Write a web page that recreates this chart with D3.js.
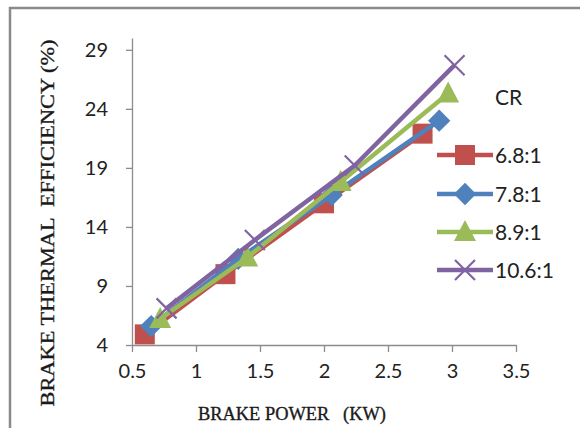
<!DOCTYPE html>
<html><head><meta charset="utf-8">
<script src="https://cdn.jsdelivr.net/npm/d3@7"></script>
<style>html,body{margin:0;padding:0;background:#fff}svg{display:block}</style>
</head><body>
<script>
const seriesNames = ["6.8:1", "7.8:1", "8.9:1", "10.6:1"];
const colors = ["#C0504D", "#4F81BD", "#9BBB59", "#8064A2"];
const markers = ["square", "diamond", "triangle", "cross"];
const bp_68 = [0.60, 1.23, 2.00, 2.77];
const bte_68 = [4.9, 10.0, 16.0, 21.9];
const bp_78 = [0.65, 1.33, 2.06, 2.90];
const bte_78 = [5.6, 11.3, 16.7, 23.0];
const bp_89 = [0.72, 1.40, 2.13, 2.97];
const bte_89 = [6.2, 11.4, 17.8, 25.3];
const bp_106 = [0.77, 1.46, 2.24, 3.02];
const bte_106 = [7.1, 12.9, 19.2, 27.7];
const xTicks = [0.5, 1, 1.5, 2, 2.5, 3, 3.5];
const yTicks = [4, 9, 14, 19, 24, 29];

const series = [
  {name: seriesNames[0], xs: bp_68, ys: bte_68},
  {name: seriesNames[1], xs: bp_78, ys: bte_78},
  {name: seriesNames[2], xs: bp_89, ys: bte_89},
  {name: seriesNames[3], xs: bp_106, ys: bte_106}
].map((s, i) => ({...s, color: colors[i], marker: markers[i],
  pts: s.xs.map((x, j) => [x, s.ys[j]])}));

const W = 580, H = 428;
const svg = d3.select("body").append("svg").attr("width", W).attr("height", H);

// frame
svg.append("rect").attr("x", 10).attr("y", 8).attr("width", 600).attr("height", 450)
  .attr("fill", "none").attr("stroke", "#8a8a8a").attr("stroke-width", 2.5);

const x = d3.scaleLinear().domain([0.5, 3.5]).range([132, 516]);
const y = d3.scaleLinear().domain([4, 30]).range([345, 38]);

const axisColor = "#8c8c8c";
const tickFont = "Lato, 'Open Sans', sans-serif";

// y axis
const gy = svg.append("g").attr("transform", `translate(${x(0.5)},0)`)
  .call(d3.axisLeft(y).tickValues(yTicks).tickSize(6).tickSizeOuter(0).tickPadding(18));
// x axis
const gx = svg.append("g").attr("transform", `translate(0,${y(4)})`)
  .call(d3.axisBottom(x).tickValues(xTicks).tickSize(7).tickSizeOuter(0).tickPadding(12)
    .tickFormat(d3.format("")));
[gx, gy].forEach(g => {
  g.select(".domain").attr("stroke", axisColor).attr("stroke-width", 1.3);
  g.selectAll(".tick line").attr("stroke", axisColor).attr("stroke-width", 1.3);
  g.selectAll("text").attr("fill", "#222").attr("font-family", tickFont).attr("font-size", 20);
});

// marker drawing
function drawMarker(g, type, color, cx, cy, size) {
  if (type === "square") {
    g.append("rect").attr("x", cx - size/2).attr("y", cy - size/2)
      .attr("width", size).attr("height", size).attr("fill", color);
  } else if (type === "diamond") {
    const r = size * 0.62;
    g.append("path").attr("d", `M${cx},${cy-r}L${cx+r},${cy}L${cx},${cy+r}L${cx-r},${cy}Z`)
      .attr("fill", color);
  } else if (type === "triangle") {
    const h = size * 1.0, w = size * 1.1;
    g.append("path").attr("d", `M${cx},${cy-h*0.6}L${cx+w/2},${cy+h*0.45}L${cx-w/2},${cy+h*0.45}Z`)
      .attr("fill", color);
  } else {
    const r = size * 0.5;
    g.append("path").attr("d", `M${cx-r},${cy-r}L${cx+r},${cy+r}M${cx-r},${cy+r}L${cx+r},${cy-r}`)
      .attr("stroke", color).attr("stroke-width", 2.2).attr("fill", "none");
  }
}

const line = d3.line().x(d => x(d[0])).y(d => y(d[1]));
series.forEach(s => {
  const g = svg.append("g");
  g.append("path").attr("d", line(s.pts)).attr("fill", "none")
    .attr("stroke", s.color).attr("stroke-width", 4.5).attr("stroke-linejoin", "round");
  s.pts.forEach(p => drawMarker(g, s.marker, s.color, x(p[0]), y(p[1]), s.marker === "diamond" ? 18 : 20));
});

// legend
const legFont = "Lato, 'Open Sans', sans-serif";
svg.append("text").attr("x", 495).attr("y", 105).text("CR")
  .attr("font-family", legFont).attr("font-size", 21).attr("fill", "#222");
const legY = [155, 194, 232, 270];
series.forEach((s, i) => {
  const g = svg.append("g");
  g.append("line").attr("x1", 437).attr("x2", 493).attr("y1", legY[i]).attr("y2", legY[i])
    .attr("stroke", s.color).attr("stroke-width", 4.5);
  drawMarker(g, s.marker, s.color, 465, legY[i], s.marker === "diamond" ? 18 : 20);
  g.append("text").attr("x", 495).attr("y", legY[i] + 8).text(s.name)
    .attr("font-family", legFont).attr("font-size", 21).attr("fill", "#222");
});

// axis titles
const titleFont = "'Liberation Serif', 'Times New Roman', serif";
svg.append("text").attr("x", 198).attr("y", 420).text("BRAKE POWER   (KW)")
  .attr("font-family", titleFont).attr("font-size", 19)
  .attr("fill", "#1a1a1a").attr("stroke", "#1a1a1a").attr("stroke-width", 0.35)
  .style("white-space", "pre").attr("textLength", 188).attr("lengthAdjust", "spacingAndGlyphs");
svg.append("text").attr("transform", "translate(54,223) rotate(-90)")
  .text("BRAKE THERMAL  EFFICIENCY (%)")
  .attr("font-family", titleFont).attr("font-size", 19)
  .attr("fill", "#1a1a1a").attr("stroke", "#1a1a1a").attr("stroke-width", 0.35)
  .attr("text-anchor", "middle").style("white-space", "pre")
  .attr("textLength", 367).attr("lengthAdjust", "spacingAndGlyphs");
</script>
</body></html>
